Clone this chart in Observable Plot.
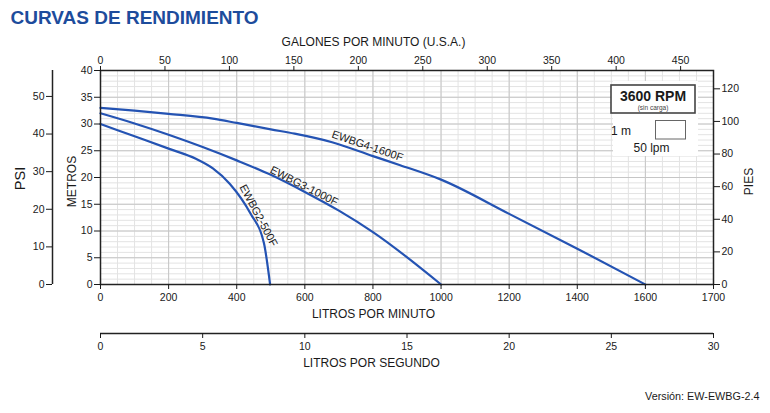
<!DOCTYPE html>
<html><head><meta charset="utf-8">
<script src="https://cdn.jsdelivr.net/npm/d3@7"></script>
<script src="https://cdn.jsdelivr.net/npm/@observablehq/plot@0.6"></script>
<style>
html,body{margin:0;padding:0;background:#fff;}
#chart{position:relative;width:770px;height:413px;overflow:hidden;background:#fff;font-family:"Liberation Sans",Arial,sans-serif;}
#chart svg{position:absolute;left:0;}
</style></head><body><div id="chart"></div>
<script>
// ---- data ----
const ewbg2Lpm = [0, 100, 200, 280, 330, 380, 440, 480, 498];
const ewbg2M   = [30, 27.7, 25.4, 23.5, 21.7, 18.8, 13.3, 7.7, 0];
const ewbg3Lpm = [0, 100, 200, 300, 400, 500, 600, 700, 800, 1000];
const ewbg3M   = [32, 30.1, 28, 25.7, 23.2, 20.5, 17.3, 13.8, 9.8, 0];
const ewbg4Lpm = [0, 100, 200, 330, 400, 500, 570, 680, 800, 880, 1000, 1200, 1400, 1600];
const ewbg4M   = [33, 32.5, 31.9, 31.0, 30.2, 29.0, 28.2, 26.6, 24.0, 22.3, 19.6, 13.2, 6.7, 0];
const modelNames = ["EWBG2-500F", "EWBG3-1000F", "EWBG4-1600F"];
const labelLpm   = [464, 598, 784];
const labelM     = [12.9, 18.4, 25.9];
const labelAngle = [62, 27, 19];

const lpmTicks      = [0, 200, 400, 600, 800, 1000, 1200, 1400, 1600, 1800];
const lpmTickLabels = ["0","200","400","600","800","1000","1200","1400","1600","1700"];
const galTicks   = [0, 50, 100, 150, 200, 250, 300, 350, 400, 450];
const metrosTicks = [0, 5, 10, 15, 20, 25, 30, 35, 40];
const piesTicks  = [0, 20, 40, 60, 80, 100, 120];
const psiTicks   = [0, 10, 20, 30, 40, 50];
const lpsTicks   = [0, 5, 10, 15, 20, 25, 30];

const title = "CURVAS DE RENDIMIENTO";
const version = "Versión: EW-EWBG-2.4";

const LPM_PER_GAL = 3.78541, M_PER_FT = 0.3048, M_PER_PSI = 0.70307;
const BLUE = "#2453b3", TITLE_BLUE = "#1d4c9c", INK = "#1a1a1a";
const FONT = '"Liberation Sans", Arial, sans-serif';

const curves = [
  ...ewbg2Lpm.map((v, i) => ({model: modelNames[0], lpm: v, m: ewbg2M[i]})),
  ...ewbg3Lpm.map((v, i) => ({model: modelNames[1], lpm: v, m: ewbg3M[i]})),
  ...ewbg4Lpm.map((v, i) => ({model: modelNames[2], lpm: v, m: ewbg4M[i]}))
];
const curveLabels = modelNames.map((n, i) => ({label: n, lpm: labelLpm[i], m: labelM[i], angle: labelAngle[i]}));
const lpmLabelOf = new Map(lpmTicks.map((t, i) => [t, lpmTickLabels[i]]));

const chart = document.getElementById("chart");

// ---- main chart ----
const main = Plot.plot({
  width: 770, height: 340,
  marginTop: 70, marginBottom: 56, marginLeft: 100, marginRight: 57,
  style: {fontFamily: FONT, fontSize: "10.5px", background: "transparent", color: INK},
  x: {domain: [0, 1800]},
  y: {domain: [0, 40]},
  marks: [
    Plot.gridX(d3.range(0, 1801, 50), {stroke: "#e3e3e3", strokeOpacity: 1}),
    Plot.gridY(d3.range(0, 41, 1), {stroke: "#e3e3e3", strokeOpacity: 1}),
    Plot.gridX(d3.range(0, 1801, 200), {stroke: "#c6c6c6", strokeOpacity: 1}),
    Plot.gridY(d3.range(0, 41, 5), {stroke: "#c6c6c6", strokeOpacity: 1}),
    Plot.line(curves, {x: "lpm", y: "m", z: "model", stroke: BLUE, strokeWidth: 2.2, curve: "monotone-x"}),
    Plot.text(curveLabels, {x: "lpm", y: "m", text: "label", rotate: "angle", fontSize: 11, fill: INK}),
    Plot.frame({stroke: "#222", strokeWidth: 1.5}),
    Plot.axisX(lpmTicks, {anchor: "bottom", tickSize: 5, tickPadding: 4, tickFormat: d => lpmLabelOf.get(d), label: null}),
    Plot.axisX(galTicks.map(g => g * LPM_PER_GAL), {anchor: "top", tickSize: 5, tickPadding: 2,
      tickFormat: d => String(Math.round(d / LPM_PER_GAL)), label: null}),
    Plot.axisY(metrosTicks, {anchor: "left", tickSize: 6, tickPadding: 2, label: null}),
    Plot.axisY(piesTicks.map(f => f * M_PER_FT), {anchor: "right", tickSize: 6, tickPadding: 2,
      tickFormat: d => String(Math.round(d / M_PER_FT)), label: null}),
    Plot.text([title], {text: d => d, frameAnchor: "top-left", dx: -90, dy: -47, textAnchor: "start",
      lineAnchor: "bottom", fontSize: 19, fontWeight: "bold", fill: TITLE_BLUE}),
    Plot.text(["GALONES POR MINUTO (U.S.A.)"], {text: d => d, frameAnchor: "top", dx: -33.5, dy: -25,
      textAnchor: "middle", lineAnchor: "bottom", fontSize: 12, fill: INK}),
    Plot.text(["LITROS POR MINUTO"], {text: d => d, frameAnchor: "bottom", dx: -33.5, dy: 33.5,
      textAnchor: "middle", lineAnchor: "bottom", fontSize: 12, fill: INK}),
    Plot.text(["METROS"], {text: d => d, frameAnchor: "left", dx: -28, dy: 4, rotate: -90,
      textAnchor: "middle", fontSize: 12, fill: INK}),
    Plot.text(["PIES"], {text: d => d, frameAnchor: "right", dx: 36, dy: 4, rotate: -90,
      textAnchor: "middle", fontSize: 12, fill: INK})
  ]
});
main.style.top = "0px";
chart.appendChild(main);

// legend box (3600 RPM, 1 m x 50 lpm)
const g = d3.select(main).append("g").attr("font-family", FONT).attr("fill", INK);
g.append("rect").attr("x", 613).attr("y", 81).attr("width", 85).attr("height", 75).attr("fill", "#fff");
g.append("rect").attr("x", 611).attr("y", 85).attr("width", 84).attr("height", 28)
  .attr("fill", "#fff").attr("stroke", "#444").attr("stroke-width", 1.6);
g.append("text").attr("x", 653).attr("y", 100.5).attr("text-anchor", "middle")
  .attr("font-size", 14).attr("font-weight", "bold").text("3600 RPM");
g.append("text").attr("x", 653).attr("y", 109.5).attr("text-anchor", "middle")
  .attr("font-size", 6.5).attr("fill", "#444").text("(sin carga)");
g.append("text").attr("x", 621).attr("y", 135).attr("font-size", 12).text("1 m");
g.append("rect").attr("x", 655.5).attr("y", 120.5).attr("width", 30).attr("height", 18.5)
  .attr("fill", "#fff").attr("stroke", "#666").attr("stroke-width", 1);
g.append("text").attr("x", 651.5).attr("y", 152).attr("font-size", 12).text("50 lpm");

// ---- PSI axis (left) ----
const psi = Plot.plot({
  width: 100, height: 340,
  marginTop: 70, marginBottom: 56, marginLeft: 52, marginRight: 40,
  style: {fontFamily: FONT, fontSize: "10.5px", background: "transparent", color: INK},
  x: {domain: [0, 1], axis: null},
  y: {domain: [0, 40 / M_PER_PSI]},
  marks: [
    Plot.ruleX([0], {stroke: "#222", strokeWidth: 1.5}),
    Plot.axisY(psiTicks, {anchor: "left", tickSize: 6, tickPadding: 2, label: null}),
    Plot.text(["PSI"], {text: d => d, frameAnchor: "left", dx: -32, dy: 1, rotate: -90,
      textAnchor: "middle", fontSize: 14.5, fill: INK})
  ]
});
psi.style.top = "0px";
chart.appendChild(psi);

// ---- litros por segundo axis (bottom) ----
const lps = Plot.plot({
  width: 770, height: 123,
  marginTop: 10, marginBottom: 80, marginLeft: 100, marginRight: 57,
  style: {fontFamily: FONT, fontSize: "10.5px", background: "transparent", color: INK},
  x: {domain: [0, 30]},
  y: {domain: [0, 1], axis: null},
  marks: [
    Plot.ruleY([0], {stroke: "#222", strokeWidth: 1.5}),
    Plot.axisX(lpsTicks, {anchor: "bottom", tickSize: 5, tickPadding: 4, label: null}),
    Plot.text(["LITROS POR SEGUNDO"], {text: d => d, frameAnchor: "bottom", dx: -35.5, dy: 33,
      textAnchor: "middle", lineAnchor: "bottom", fontSize: 12, fill: INK}),
    Plot.text([version], {text: d => d, frameAnchor: "bottom-right", dx: 46, dy: 66,
      textAnchor: "end", lineAnchor: "bottom", fontSize: 10.8, fill: INK})
  ]
});
lps.style.top = "290px";
chart.appendChild(lps);
</script></body></html>
